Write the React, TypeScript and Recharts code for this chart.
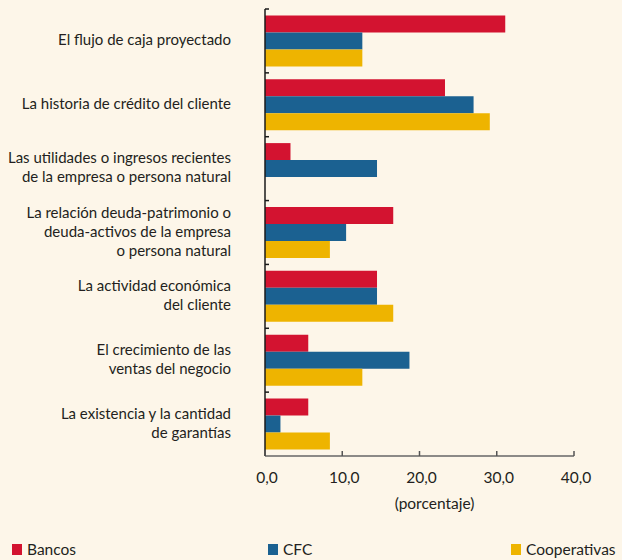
import { Bar, BarChart, XAxis, YAxis } from "recharts";

const categories: string[][] = [
  ["El flujo de caja proyectado"],
  ["La historia de crédito del cliente"],
  ["Las utilidades o ingresos recientes", "de la empresa o persona natural"],
  ["La relación deuda-patrimonio o", "deuda-activos de la empresa", "o persona natural"],
  ["La actividad económica", "del cliente"],
  ["El crecimiento de las", "ventas del negocio"],
  ["La existencia y la cantidad", "de garantías"],
];

const bancos = [31.1, 23.3, 3.3, 16.6, 14.5, 5.6, 5.6];
const cfc = [12.6, 27.0, 14.5, 10.5, 14.5, 18.7, 2.0];
const cooperativas: (number | null)[] = [12.6, 29.1, null, 8.4, 16.6, 12.6, 8.4];

const xTicks = [0, 10, 20, 30, 40];

const series = [
  { key: "bancos", name: "Bancos", color: "#d31330" },
  { key: "cfc", name: "CFC", color: "#1b6191" },
  { key: "cooperativas", name: "Cooperativas", color: "#eeb400" },
];

const chartData = categories.map((lines, i) => ({
  name: lines.join("\n"),
  bancos: bancos[i],
  cfc: cfc[i],
  cooperativas: cooperativas[i],
}));

const W = 622;
const H = 560;
const margin = { top: 9, right: 48, bottom: 0, left: 0 };
const xAxisHeight = 104;
const bandSize = (H - margin.top - margin.bottom - xAxisHeight) / categories.length;

const FONT = "Lato, 'Open Sans', sans-serif";
const TEXT = "#231f20";

// biome-ignore lint/suspicious/noExplicitAny: recharts tick props are runtime-shaped.
function CategoryTick({ x, y, payload }: any) {
  const lines = String(payload.value).split("\n");
  const lh = 19;
  const top = y - 2 - ((lines.length - 1) * lh) / 2;
  return (
    <g>
      <line x1={x} x2={x + 4} y1={y - bandSize / 2} y2={y - bandSize / 2} stroke="#1a1a1a" strokeWidth={1.5} />
      <text x={x - 34} y={top} textAnchor="end" dominantBaseline="central" fontFamily={FONT} fontSize={15} fill={TEXT}>
        {lines.map((l, i) => (
          <tspan key={l} x={x - 34} y={top + i * lh}>
            {l}
          </tspan>
        ))}
      </text>
    </g>
  );
}

// biome-ignore lint/suspicious/noExplicitAny: recharts tick props are runtime-shaped.
function ValueTick({ x, y, payload }: any) {
  return (
    <g>
      <line x1={x} x2={x} y1={y - 5} y2={y} stroke="#555" strokeWidth={1.5} />
      <text x={x + 2} y={y + 21} textAnchor="middle" dominantBaseline="central" fontFamily={FONT} fontSize={15.5} fill={TEXT}>
        {payload.value.toFixed(1).replace(".", ",")}
      </text>
    </g>
  );
}

export default function App() {
  return (
    <div style={{ position: "relative", width: W, height: H, background: "#fdf6e9" }}>
      <style>{"body{margin:0}"}</style>
      <BarChart
        width={W}
        height={H}
        data={chartData}
        layout="vertical"
        margin={margin}
        barCategoryGap="10%"
        barGap={0}
      >
        <XAxis
          type="number"
          domain={[0, 40]}
          ticks={xTicks}
          height={xAxisHeight}
          tickSize={0}
          tickMargin={0}
          tickLine={false}
          axisLine={{ stroke: "#666", strokeWidth: 1.5 }}
          tick={<ValueTick />}
          label={{
            content: (p: any) => (
              <text
                x={p.viewBox.x + p.viewBox.width / 2 + 15}
                y={p.viewBox.y + 47}
                textAnchor="middle"
                dominantBaseline="central"
                fontFamily={FONT}
                fontSize={15.5}
                fill={TEXT}
              >
                (porcentaje)
              </text>
            ),
          }}
        />
        <YAxis
          type="category"
          dataKey="name"
          width={265}
          tickSize={0}
          tickMargin={0}
          tickLine={false}
          axisLine={{ stroke: "#1a1a1a", strokeWidth: 1.5 }}
          tick={<CategoryTick />}
          interval={0}
        />
        {series.map((s) => (
          <Bar key={s.key} dataKey={s.key} name={s.name} fill={s.color} isAnimationActive={false} />
        ))}
      </BarChart>
      {series.map((s, i) => (
        <div
          key={s.key}
          style={{
            position: "absolute",
            left: [12, 268, 511][i],
            top: 540,
            display: "flex",
            alignItems: "center",
            gap: 5,
            fontFamily: FONT,
            fontSize: 15.5,
            color: TEXT,
          }}
        >
          <span style={{ width: 10, height: 11, background: s.color, display: "inline-block" }} />
          <span>{s.name}</span>
        </div>
      ))}
    </div>
  );
}
